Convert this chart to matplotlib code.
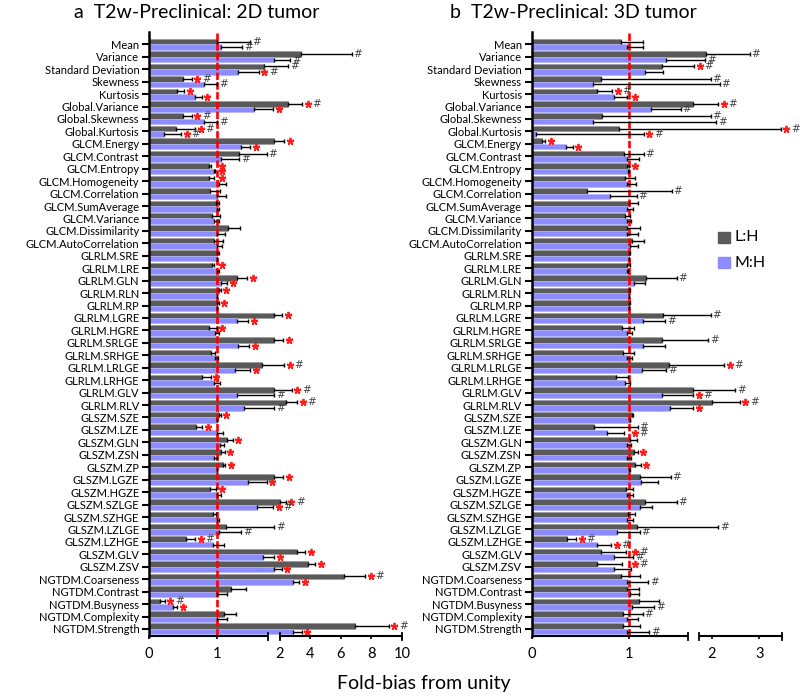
import numpy as np
import matplotlib.pyplot as plt
import matplotlib.transforms as mtransforms
from matplotlib.patches import Rectangle

plt.rcParams['font.family'] = ['Lato', 'DejaVu Sans']

# --- Daten ---
features = [
    'Mean', 'Variance', 'Standard Deviation', 'Skewness', 'Kurtosis',
    'Global.Variance', 'Global.Skewness', 'Global.Kurtosis',
    'GLCM.Energy', 'GLCM.Contrast', 'GLCM.Entropy', 'GLCM.Homogeneity',
    'GLCM.Correlation', 'GLCM.SumAverage', 'GLCM.Variance', 'GLCM.Dissimilarity',
    'GLCM.AutoCorrelation',
    'GLRLM.SRE', 'GLRLM.LRE', 'GLRLM.GLN', 'GLRLM.RLN', 'GLRLM.RP', 'GLRLM.LGRE',
    'GLRLM.HGRE', 'GLRLM.SRLGE', 'GLRLM.SRHGE', 'GLRLM.LRLGE', 'GLRLM.LRHGE',
    'GLRLM.GLV', 'GLRLM.RLV',
    'GLSZM.SZE', 'GLSZM.LZE', 'GLSZM.GLN', 'GLSZM.ZSN', 'GLSZM.ZP', 'GLSZM.LGZE',
    'GLSZM.HGZE', 'GLSZM.SZLGE', 'GLSZM.SZHGE', 'GLSZM.LZLGE', 'GLSZM.LZHGE',
    'GLSZM.GLV', 'GLSZM.ZSV',
    'NGTDM.Coarseness', 'NGTDM.Contrast', 'NGTDM.Busyness', 'NGTDM.Complexity',
    'NGTDM.Strength',
]

# 2D tumor: L:H
lh_2d = [1.01, 3.38, 1.70, 0.50, 0.42, 2.55, 0.50, 0.40, 1.88, 1.33, 0.89, 0.89,
         0.90, 0.99, 0.93, 1.17, 0.96, 1.01, 0.93, 1.30, 1.04, 1.01, 1.88, 0.89,
         1.88, 0.92, 1.67, 0.79, 1.88, 2.37, 1.04, 0.70, 1.16, 1.07, 1.09, 1.88,
         0.90, 2.00, 0.94, 1.14, 0.54, 3.10, 3.82, 6.17, 1.21, 0.16, 1.11, 6.93]
lh_2d_hi = [1.50, 6.70, 2.55, 0.63, 0.52, 3.47, 0.63, 0.68, 2.26, 1.74, 0.92, 0.96,
            1.05, 1.04, 1.05, 1.35, 1.10, 1.03, 0.96, 1.45, 1.06, 1.03, 2.15, 1.00,
            2.20, 0.98, 2.26, 0.91, 2.77, 3.14, 1.06, 0.79, 1.24, 1.12, 1.13, 2.20,
            0.99, 2.37, 0.99, 1.88, 0.68, 3.64, 4.30, 7.59, 1.44, 0.23, 1.28, 9.13]
lh_2d_sig = ['#', '#', '#', '*#', '*', '*#', '*#', '*#', '*', '#', '*', '*',
             '', '', '', '', '', '', '*', '*', '*', '*', '*', '*',
             '*', '', '*#', '*', '*#', '*#', '*', '*', '*', '*', '*', '*',
             '*', '*#', '', '#', '*#', '*', '*', '*#', '', '*#', '', '*#']
# 2D tumor: M:H
mh_2d = [1.07, 1.88, 1.32, 0.81, 0.68, 1.55, 0.81, 0.22, 1.36, 1.07, 0.96, 1.03,
         1.00, 1.00, 0.96, 1.00, 1.01, 1.00, 1.00, 1.07, 1.00, 1.00, 1.30, 0.98,
         1.32, 0.98, 1.27, 0.96, 1.30, 1.40, 1.00, 1.00, 1.05, 0.96, 1.00, 1.46,
         1.00, 1.59, 1.00, 1.04, 0.94, 1.68, 1.88, 2.83, 1.00, 0.35, 1.00, 2.88]
mh_2d_hi = [1.38, 2.66, 1.62, 1.01, 0.78, 1.87, 1.01, 0.48, 1.50, 1.33, 0.97, 1.14,
            1.14, 1.04, 1.04, 1.12, 1.08, 1.00, 1.03, 1.16, 1.00, 1.00, 1.47, 1.04,
            1.48, 1.02, 1.50, 1.05, 1.88, 1.88, 1.00, 1.10, 1.11, 1.01, 1.00, 1.74,
            1.06, 1.86, 1.03, 1.36, 1.11, 1.88, 2.11, 3.27, 1.15, 0.42, 1.15, 3.43]
mh_2d_sig = ['#', '#', '*#', '#', '*', '*', '#', '*#', '*', '#', '*', '',
             '', '', '', '', '', '', '', '*', '', '', '*', '',
             '*', '', '*', '', '#', '#', '', '', '', '', '', '*',
             '', '*#', '', '#', '', '*', '*', '*', '', '*', '', '*']

# 3D tumor: L:H
lh_3d = [0.92, 1.88, 1.34, 0.71, 0.67, 1.67, 0.72, 0.90, 0.11, 0.95, 0.98, 0.96,
         0.57, 1.00, 0.96, 0.98, 1.03, 1.00, 0.98, 1.18, 1.00, 1.00, 1.35, 0.93,
         1.34, 0.94, 1.41, 0.87, 1.67, 2.00, 1.03, 0.64, 1.01, 1.05, 1.06, 1.11,
         0.97, 1.16, 0.99, 1.08, 0.36, 0.71, 0.67, 0.92, 0.98, 1.10, 0.94, 0.94]
lh_3d_hi = [1.14, 2.80, 1.68, 1.98, 0.83, 2.14, 1.98, 3.45, 0.14, 1.15, 1.00, 1.06,
            1.44, 1.09, 1.01, 1.11, 1.15, 1.01, 1.01, 1.49, 1.01, 1.01, 1.98, 1.05,
            1.93, 1.05, 2.26, 0.99, 2.50, 2.59, 1.04, 1.09, 1.08, 1.09, 1.12, 1.43,
            1.04, 1.49, 1.06, 2.14, 0.46, 0.97, 0.93, 1.11, 1.10, 1.31, 1.14, 1.11]
lh_3d_sig = ['', '#', '*#', '#', '*#', '*#', '#', '*#', '*', '#', '*', '',
             '#', '', '', '', '', '', '', '#', '', '', '#', '',
             '#', '', '*#', '', '#', '*#', '', '#', '', '*', '*', '#',
             '', '#', '', '#', '*#', '*#', '*#', '', '', '', '#', '']
# 3D tumor: M:H
mh_3d = [0.98, 1.38, 1.16, 0.63, 0.85, 1.23, 0.63, 0.045, 0.35, 0.98, 0.99, 0.98,
         0.80, 0.98, 0.98, 0.98, 1.01, 1.00, 0.98, 1.05, 1.00, 1.00, 1.14, 0.98,
         1.14, 0.98, 1.13, 0.96, 1.34, 1.42, 1.01, 0.77, 0.98, 0.98, 1.00, 1.12,
         0.98, 1.11, 0.98, 0.88, 0.67, 0.85, 0.85, 0.98, 1.01, 1.03, 0.98, 0.98]
mh_3d_hi = [1.14, 1.86, 1.35, 2.17, 0.98, 1.53, 2.10, 1.15, 0.42, 1.10, 1.00, 1.07,
            1.08, 1.04, 1.02, 1.09, 1.09, 1.00, 0.99, 1.16, 1.00, 1.00, 1.37, 1.03,
            1.37, 1.03, 1.38, 1.01, 1.67, 1.67, 1.01, 0.95, 1.02, 1.02, 1.01, 1.30,
            1.04, 1.24, 1.04, 1.11, 0.82, 1.04, 1.02, 1.20, 1.10, 1.26, 1.09, 1.21]
mh_3d_sig = ['', '#', '', '#', '*', '#', '#', '*#', '*', '', '', '',
             '#', '', '', '', '', '', '', '', '', '', '#', '',
             '', '', '#', '', '*#', '*', '', '*#', '', '', '', '',
             '', '', '', '#', '*#', '#', '', '#', '', '#', '', '#']

GRAY = '#5a5a5a'
BLUE = '#8c8cff'
RED = '#ff1a1a'


def make_scale(kv, kp):
    # stueckweise lineare Achse mit Achsenbruch
    fwd = lambda v: np.interp(v, kv, kp)
    inv = lambda p: np.interp(p, kp, kv)
    return fwd, inv


def draw_panel(ax, lh, lh_hi, lh_sig, mh, mh_hi, mh_sig, kv, kp, xmax, segs, xticks):
    fwd, inv = make_scale(kv, kp)
    ax.set_xscale('function', functions=(fwd, inv))
    y = np.arange(len(features))
    dy = 0.22
    h = 0.44

    for vals, hi, sig, off, col, edge in [(lh, lh_hi, lh_sig, -dy, GRAY, '#9a9a9a'),
                                          (mh, mh_hi, mh_sig, dy, BLUE, '#b4b4ff')]:
        vals = np.array(vals)
        hi = np.array(hi)
        ax.barh(y + off, vals, height=h, color=col, edgecolor=edge, linewidth=0.5, zorder=2)
        err = np.clip(hi - vals, 0, None)
        ax.errorbar(vals, y + off, xerr=[np.zeros_like(err), err], fmt='none',
                    ecolor='black', elinewidth=1.0, capsize=1.6, capthick=1.0, zorder=4)
        for i, s in enumerate(sig):
            if not s:
                continue
            anchor = hi[i]
            if 0.92 <= anchor <= 1.0:
                anchor = 1.0
            if '*' in s:
                tr = ax.transData + mtransforms.ScaledTranslation(4.0 / 72, 0, ax.figure.dpi_scale_trans)
                ax.plot([anchor], [y[i] + off], marker=(5, 2, 0), ms=5.2, mew=1.3,
                        color=RED, transform=tr, clip_on=False, zorder=5)
                dx = 10.5
            else:
                dx = 4.5
            if '#' in s:
                ax.annotate('#', xy=(anchor, y[i] + off), xytext=(dx, 0),
                            textcoords='offset points', ha='center', va='center',
                            fontsize=7.5, color='#404040', family='DejaVu Sans',
                            annotation_clip=False, zorder=5)

    ax.axvline(1, color='#ff0000', lw=1.9, ls=(0, (2.8, 0.9)), zorder=3)

    ax.set_xlim(0, xmax)
    ax.set_ylim(47.54, -0.99)
    ax.set_yticks(y)
    ax.set_yticklabels(features, fontsize=8.0)
    ax.tick_params(axis='y', length=5, width=1.5, pad=2)
    ax.set_xticks(xticks)
    ax.set_xticklabels([str(t) for t in xticks], fontsize=10.5)
    ax.tick_params(axis='x', length=2.5, width=1.2, pad=6)
    ax.minorticks_off()

    for side in ['top', 'right', 'bottom']:
        ax.spines[side].set_visible(False)
    ax.spines['left'].set_linewidth(1.8)

    # gebrochene x-Achse
    trans = mtransforms.blended_transform_factory(ax.transData, ax.transAxes)
    for a, b in segs:
        ax.plot([a, b], [0, 0], color='black', lw=1.5, transform=trans,
                clip_on=False, solid_capstyle='butt', zorder=6)
        for x in (a, b):
            if x == 0:
                continue
            ax.plot([x, x], [-0.0065, 0.004], color='black', lw=1.3,
                    transform=trans, clip_on=False, zorder=6)


fig = plt.figure(figsize=(8.0, 6.99), dpi=100)
ax1 = fig.add_axes([149 / 800, 0.0906, 253 / 800, 0.8636])
ax2 = fig.add_axes([531.7 / 800, 0.0906, 250.3 / 800, 0.8636])

draw_panel(ax1, lh_2d, lh_2d_hi, lh_2d_sig, mh_2d, mh_2d_hi, mh_2d_sig,
           [-1, 0, 1.76, 2, 10, 20], [-67.6, 0, 119, 131, 253, 405.5],
           10, [(0, 1.76), (2, 10)], [0, 1, 2, 4, 6, 8, 10])
draw_panel(ax2, lh_3d, lh_3d_hi, lh_3d_sig, mh_3d, mh_3d_hi, mh_3d_sig,
           [-1, 0, 1.61, 1.74, 5], [-97.3, 0, 156.6, 167.6, 322.5],
           3.48, [(0, 1.61), (1.74, 3.48)], [0, 1, 2, 3])

fig.text(196.5 / 800, 1 - 17.5 / 699, 'a  T2w-Preclinical: 2D tumor',
         ha='center', va='baseline', fontsize=14)
fig.text(573 / 800, 1 - 17.5 / 699, 'b  T2w-Preclinical: 3D tumor',
         ha='center', va='baseline', fontsize=14)
fig.text(424 / 800, 1 - 683 / 699, 'Fold-bias from unity',
         ha='center', va='center', fontsize=14)

# Legende
fig.patches.append(Rectangle((717.7 / 800, 1 - 242.7 / 699), 12.3 / 800, 11 / 699,
                             transform=fig.transFigure, color=GRAY))
fig.patches.append(Rectangle((717.7 / 800, 1 - 268.3 / 699), 12.3 / 800, 11 / 699,
                             transform=fig.transFigure, color=BLUE))
fig.text(735 / 800, 1 - 237.2 / 699, 'L:H', ha='left', va='center', fontsize=11.5)
fig.text(735 / 800, 1 - 263 / 699, 'M:H', ha='left', va='center', fontsize=11.5)

plt.savefig('out.png', dpi=100)
